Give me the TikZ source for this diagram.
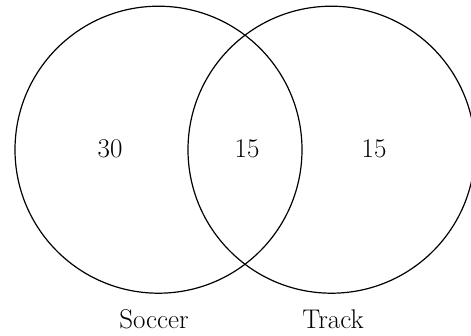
\documentclass[tikz,border=0pt]{standalone}
\usepackage{tikz}
\usetikzlibrary{positioning}

\begin{document}
\begin{tikzpicture}[
    x=1pt,y=-1pt,
    set/.style={draw,circle,line width=1.2pt,minimum size=287pt,inner sep=0pt},
    num/.style={anchor=base,font=\fontsize{27}{32}\selectfont},
    lbl/.style={anchor=base,font=\fontsize{27}{32}\selectfont}
  ]
  \useasboundingbox (0,0) rectangle (471,335);

  % the two sets
  \node[set] (soccer) at (158.5,149.7) {};
  \node[set] (track) at (331.5,149.7) {};

  % counts
  \node[num] (onlysoccer) at (110,157) {30};
  \node[num] (both) at (247,157) {15};
  \node[num] (onlytrack) at (374,157) {15};

  % set names
  \node[lbl] (soccername) at (154,328) {Soccer};
  \node[lbl] (trackname) at (333,328) {Track};
\end{tikzpicture}
\end{document}
